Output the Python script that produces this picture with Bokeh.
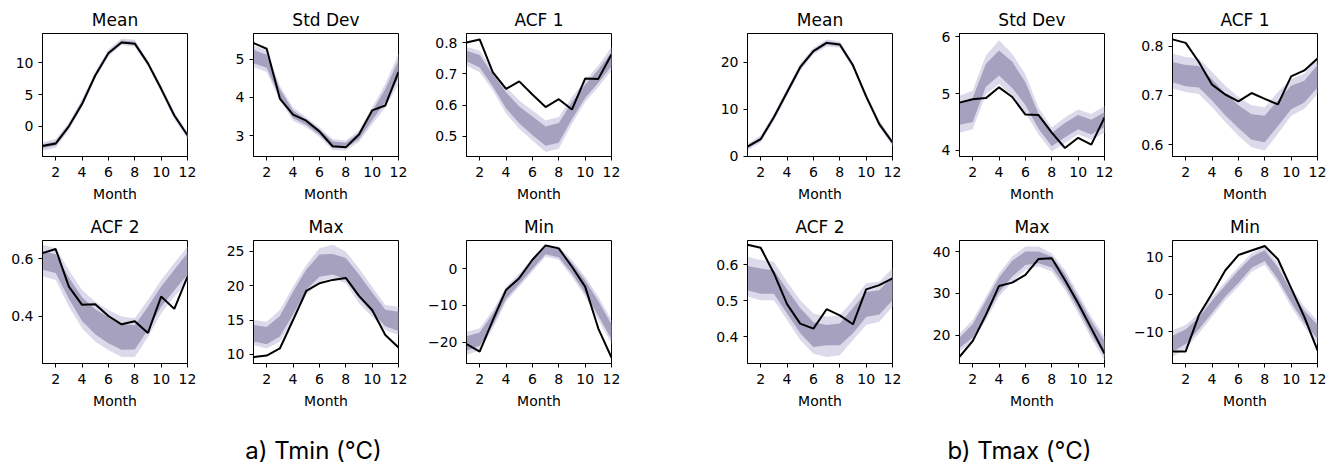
from bokeh.plotting import figure
from bokeh.layouts import column, row
from bokeh.models import Range1d, FixedTicker, CustomJSTickFormatter
from bokeh.core.properties import value
from bokeh.embed import file_html
from bokeh.resources import INLINE

MONTHS = [1, 2, 3, 4, 5, 6, 7, 8, 9, 10, 11, 12]
X_TICKS = [2, 4, 6, 8, 10, 12]
TITLES = ["Mean", "Std Dev", "ACF 1", "ACF 2", "Max", "Min"]
CAPTIONS = ["a) Tmin (°C)", "b) Tmax (°C)"]

# ---------------- Tmin ----------------
TMIN_MEAN_OBS = [-3.1, -2.7, 0.0, 3.5, 8.0, 11.5, 13.2, 13.0, 9.9, 5.9, 1.7, -1.4]
TMIN_MEAN_OLO = [-3.8, -3.4, -0.6, 3.0, 7.5, 11.0, 12.8, 12.5, 9.4, 5.4, 1.1, -2.0]
TMIN_MEAN_OHI = [-2.5, -2.0, 0.6, 4.3, 8.6, 12.1, 13.8, 13.6, 10.4, 6.5, 2.3, -0.9]
TMIN_MEAN_CLO = [-3.4, -3.0, -0.2, 3.4, 7.8, 11.4, 13.1, 12.9, 9.7, 5.8, 1.5, -1.6]
TMIN_MEAN_CHI = [-2.8, -2.4, 0.3, 4.0, 8.3, 11.8, 13.5, 13.3, 10.1, 6.2, 2.0, -1.2]

TMIN_STD_OBS = [5.43, 5.28, 3.97, 3.55, 3.39, 3.11, 2.72, 2.69, 3.03, 3.66, 3.79, 4.67]
TMIN_STD_OLO = [4.80, 4.67, 3.92, 3.39, 3.22, 2.96, 2.62, 2.61, 2.83, 3.30, 3.74, 4.36]
TMIN_STD_OHI = [5.37, 5.24, 4.30, 3.74, 3.48, 3.22, 2.91, 2.87, 3.13, 3.74, 4.36, 5.15]
TMIN_STD_CLO = [4.90, 4.78, 4.00, 3.46, 3.28, 3.02, 2.68, 2.67, 2.90, 3.40, 3.88, 4.52]
TMIN_STD_CHI = [5.25, 5.12, 4.22, 3.66, 3.42, 3.16, 2.85, 2.81, 3.06, 3.64, 4.22, 4.98]

TMIN_ACF1_OBS = [0.800, 0.810, 0.705, 0.652, 0.676, 0.634, 0.594, 0.619, 0.586, 0.685, 0.684, 0.762]
TMIN_ACF1_OLO = [0.727, 0.705, 0.647, 0.573, 0.525, 0.487, 0.450, 0.461, 0.541, 0.610, 0.658, 0.711]
TMIN_ACF1_OHI = [0.786, 0.775, 0.711, 0.659, 0.615, 0.583, 0.551, 0.562, 0.626, 0.679, 0.727, 0.786]
TMIN_ACF1_CLO = [0.740, 0.720, 0.660, 0.590, 0.542, 0.505, 0.470, 0.480, 0.556, 0.623, 0.672, 0.725]
TMIN_ACF1_CHI = [0.774, 0.760, 0.698, 0.641, 0.596, 0.564, 0.532, 0.543, 0.610, 0.665, 0.713, 0.770]

TMIN_ACF2_OBS = [0.620, 0.634, 0.503, 0.439, 0.441, 0.400, 0.371, 0.382, 0.341, 0.468, 0.425, 0.538]
TMIN_ACF2_OLO = [0.538, 0.526, 0.433, 0.357, 0.310, 0.281, 0.257, 0.257, 0.327, 0.409, 0.468, 0.520]
TMIN_ACF2_OHI = [0.649, 0.637, 0.561, 0.491, 0.450, 0.421, 0.398, 0.392, 0.456, 0.526, 0.585, 0.643]
TMIN_ACF2_CLO = [0.562, 0.550, 0.460, 0.383, 0.336, 0.305, 0.282, 0.283, 0.352, 0.432, 0.490, 0.545]
TMIN_ACF2_CHI = [0.627, 0.615, 0.535, 0.466, 0.424, 0.396, 0.373, 0.368, 0.432, 0.503, 0.562, 0.620]

TMIN_MAX_OBS = [9.61, 9.85, 10.87, 15.0, 19.22, 20.34, 20.83, 21.12, 18.5, 16.46, 12.82, 11.02]
TMIN_MAX_OLO = [11.36, 10.87, 11.84, 15.0, 18.64, 20.58, 21.07, 20.34, 17.43, 15.49, 13.54, 12.82]
TMIN_MAX_OHI = [15.0, 14.76, 16.46, 19.85, 23.0, 25.44, 25.92, 24.95, 22.52, 19.85, 17.18, 16.94]
TMIN_MAX_CLO = [11.9, 11.5, 12.6, 15.8, 19.4, 21.3, 21.6, 20.9, 18.2, 16.1, 14.1, 13.4]
TMIN_MAX_CHI = [14.3, 14.0, 15.6, 19.1, 22.3, 24.5, 24.6, 24.0, 21.6, 19.0, 16.5, 16.2]

TMIN_MIN_OBS = [-20.5, -22.6, -14.0, -5.8, -2.6, 2.4, 6.3, 5.5, 0.5, -4.9, -16.3, -24.2]
TMIN_MIN_OLO = [-23.5, -22.2, -16.3, -9.0, -4.9, -0.8, 3.3, 2.4, -2.2, -7.6, -14.0, -20.4]
TMIN_MIN_OHI = [-17.2, -16.3, -11.3, -4.9, -1.3, 2.8, 6.5, 6.0, 2.4, -2.2, -7.6, -14.0]
TMIN_MIN_CLO = [-22.3, -21.0, -15.3, -8.2, -4.2, -0.1, 3.9, 3.1, -1.3, -6.6, -12.8, -19.2]
TMIN_MIN_CHI = [-18.4, -17.4, -12.3, -5.7, -2.0, 2.1, 5.9, 5.3, 1.5, -3.2, -8.8, -15.2]

# ---------------- Tmax ----------------
TMAX_MEAN_OBS = [2.06, 3.63, 8.26, 13.6, 18.9, 22.3, 24.06, 23.7, 19.3, 12.7, 6.83, 2.92]
TMAX_MEAN_OLO = [1.3, 2.9, 7.5, 12.8, 18.1, 21.6, 23.3, 23.0, 18.6, 12.0, 6.1, 2.2]
TMAX_MEAN_OHI = [2.7, 4.4, 9.0, 14.4, 19.7, 23.0, 24.8, 24.4, 20.0, 13.4, 7.6, 3.6]
TMAX_MEAN_CLO = [1.7, 3.3, 7.9, 13.2, 18.5, 22.0, 23.7, 23.4, 19.0, 12.4, 6.5, 2.6]
TMAX_MEAN_CHI = [2.3, 4.0, 8.6, 14.0, 19.3, 22.6, 24.4, 24.0, 19.6, 13.0, 7.2, 3.2]

TMAX_STD_OBS = [4.84, 4.90, 4.92, 5.11, 4.94, 4.63, 4.62, 4.31, 4.04, 4.22, 4.10, 4.58]
TMAX_STD_OLO = [4.31, 4.37, 4.99, 5.17, 4.96, 4.66, 4.28, 3.98, 4.13, 4.28, 4.19, 4.31]
TMAX_STD_OHI = [4.96, 5.05, 5.67, 5.94, 5.70, 5.34, 4.75, 4.40, 4.58, 4.72, 4.64, 4.78]
TMAX_STD_CLO = [4.45, 4.50, 5.12, 5.32, 5.10, 4.80, 4.38, 4.07, 4.23, 4.37, 4.28, 4.41]
TMAX_STD_CHI = [4.82, 4.92, 5.52, 5.76, 5.56, 5.20, 4.64, 4.31, 4.48, 4.62, 4.54, 4.67]

TMAX_ACF1_OBS = [0.814, 0.807, 0.768, 0.722, 0.702, 0.688, 0.705, 0.693, 0.682, 0.739, 0.751, 0.775]
TMAX_ACF1_OLO = [0.714, 0.707, 0.703, 0.676, 0.646, 0.618, 0.595, 0.588, 0.622, 0.659, 0.673, 0.703]
TMAX_ACF1_OHI = [0.785, 0.778, 0.775, 0.748, 0.720, 0.697, 0.680, 0.676, 0.707, 0.734, 0.744, 0.778]
TMAX_ACF1_CLO = [0.727, 0.719, 0.716, 0.690, 0.660, 0.634, 0.610, 0.605, 0.638, 0.672, 0.686, 0.716]
TMAX_ACF1_CHI = [0.768, 0.762, 0.760, 0.733, 0.704, 0.680, 0.662, 0.659, 0.690, 0.720, 0.730, 0.762]

TMAX_ACF2_OBS = [0.656, 0.648, 0.577, 0.491, 0.437, 0.423, 0.477, 0.460, 0.435, 0.532, 0.544, 0.563]
TMAX_ACF2_OLO = [0.512, 0.502, 0.502, 0.447, 0.391, 0.353, 0.344, 0.349, 0.391, 0.433, 0.442, 0.484]
TMAX_ACF2_OHI = [0.623, 0.614, 0.609, 0.553, 0.502, 0.465, 0.456, 0.460, 0.502, 0.549, 0.553, 0.591]
TMAX_ACF2_CLO = [0.530, 0.520, 0.520, 0.465, 0.410, 0.372, 0.377, 0.377, 0.410, 0.455, 0.462, 0.502]
TMAX_ACF2_CHI = [0.597, 0.590, 0.585, 0.532, 0.480, 0.441, 0.433, 0.437, 0.480, 0.525, 0.530, 0.568]

TMAX_MAX_OBS = [14.8, 18.56, 24.8, 31.76, 32.56, 34.4, 38.24, 38.4, 33.2, 27.6, 21.6, 15.6]
TMAX_MAX_OLO = [16.0, 18.4, 23.6, 29.2, 32.8, 35.6, 36.4, 35.2, 30.8, 25.2, 19.2, 14.0]
TMAX_MAX_OHI = [20.4, 23.6, 29.2, 34.8, 38.8, 41.2, 41.2, 39.6, 35.6, 30.0, 24.4, 19.6]
TMAX_MAX_CLO = [16.9, 19.4, 24.6, 30.2, 34.0, 36.8, 37.2, 36.2, 31.8, 26.2, 20.2, 15.0]
TMAX_MAX_CHI = [19.4, 22.6, 28.2, 33.8, 37.8, 40.0, 40.0, 38.8, 34.6, 29.0, 23.4, 18.6]

TMAX_MIN_OBS = [-15.2, -15.2, -5.6, 0.2, 6.3, 10.4, 11.6, 12.8, 9.3, 1.6, -6.0, -14.9]
TMAX_MIN_OLO = [-16.7, -14.4, -10.4, -6.0, -1.6, 2.0, 6.0, 7.8, 2.9, -3.3, -8.7, -13.1]
TMAX_MIN_OHI = [-9.6, -8.2, -5.1, -0.7, 3.3, 7.3, 10.9, 12.7, 8.2, 2.0, -3.3, -6.9]
TMAX_MIN_CLO = [-15.3, -13.2, -9.3, -5.0, -0.6, 3.0, 7.0, 8.8, 4.0, -2.2, -7.6, -11.9]
TMAX_MIN_CHI = [-11.0, -9.4, -6.2, -1.7, 2.3, 6.3, 9.9, 11.7, 7.1, 0.9, -4.4, -8.1]

OUTER_COLOR = "#dcd9eb"
CORE_COLOR = "#a5a1be"
FONT = "DejaVu Sans"

FRAME_W = 145
FRAME_H = 123


def make_panel(title, obs, olo, ohi, clo, chi, yr, yticks, dec, left, top, bottom):
    p = figure(frame_width=FRAME_W, frame_height=FRAME_H,
               min_border_left=left, min_border_right=10,
               min_border_top=top, min_border_bottom=bottom,
               x_range=Range1d(1, 12), y_range=Range1d(*yr),
               output_backend="svg", toolbar_location=None, title=title)
    p.varea(x=MONTHS, y1=olo, y2=ohi, fill_color=OUTER_COLOR, fill_alpha=1.0)
    p.varea(x=MONTHS, y1=clo, y2=chi, fill_color=CORE_COLOR, fill_alpha=1.0)
    p.line(x=MONTHS, y=obs, line_color="black", line_width=2)

    p.title.text_font = FONT
    p.title.text_font_size = "17px"
    p.title.text_font_style = "normal"
    p.title.align = "center"
    p.title.standoff = 7
    p.title.text_color = "black"

    p.grid.visible = False
    p.outline_line_color = "black"
    p.outline_line_width = 1
    p.outline_line_alpha = 1
    p.background_fill_color = "white"
    p.border_fill_color = "white"

    p.xaxis.ticker = FixedTicker(ticks=X_TICKS)
    p.yaxis.ticker = FixedTicker(ticks=yticks)
    p.yaxis.formatter = CustomJSTickFormatter(
        code="return tick.toFixed(%d).replace('-', '\u2212');" % dec)
    p.xaxis.axis_label = "Month"
    for ax in (p.xaxis, p.yaxis):
        ax.axis_line_color = "black"
        ax.axis_line_width = 1
        ax.major_tick_in = 0
        ax.major_tick_out = 4
        ax.major_tick_line_color = "black"
        ax.minor_tick_line_color = None
        ax.major_label_text_font = FONT
        ax.major_label_text_font_size = "14px"
        ax.major_label_text_color = "black"
        ax.axis_label_text_font = FONT
        ax.axis_label_text_font_size = "14px"
        ax.axis_label_text_font_style = "normal"
        ax.axis_label_text_color = "black"
        ax.axis_label_standoff = 6
    p.xaxis.major_label_standoff = 6
    p.yaxis.major_label_standoff = 5
    return p


LEFTS = [42, 56, 58, 126, 57, 58]
TOP1, BOT1 = 33, 55
TOP2, BOT2 = 29, 51

row1 = [
    make_panel(TITLES[0], TMIN_MEAN_OBS, TMIN_MEAN_OLO, TMIN_MEAN_OHI, TMIN_MEAN_CLO, TMIN_MEAN_CHI,
               (-4.74, 14.6), [0, 5, 10], 0, LEFTS[0], TOP1, BOT1),
    make_panel(TITLES[1], TMIN_STD_OBS, TMIN_STD_OLO, TMIN_STD_OHI, TMIN_STD_CLO, TMIN_STD_CHI,
               (2.45, 5.68), [3, 4, 5], 0, LEFTS[1], TOP1, BOT1),
    make_panel(TITLES[2], TMIN_ACF1_OBS, TMIN_ACF1_OLO, TMIN_ACF1_OHI, TMIN_ACF1_CLO, TMIN_ACF1_CHI,
               (0.436, 0.829), [0.5, 0.6, 0.7, 0.8], 1, LEFTS[2], TOP1, BOT1),
    make_panel(TITLES[0], TMAX_MEAN_OBS, TMAX_MEAN_OLO, TMAX_MEAN_OHI, TMAX_MEAN_CLO, TMAX_MEAN_CHI,
               (-0.05, 26.05), [0, 10, 20], 0, LEFTS[3], TOP1, BOT1),
    make_panel(TITLES[1], TMAX_STD_OBS, TMAX_STD_OLO, TMAX_STD_OHI, TMAX_STD_CLO, TMAX_STD_CHI,
               (3.89, 6.06), [4, 5, 6], 0, LEFTS[4], TOP1, BOT1),
    make_panel(TITLES[2], TMAX_ACF1_OBS, TMAX_ACF1_OLO, TMAX_ACF1_OHI, TMAX_ACF1_CLO, TMAX_ACF1_CHI,
               (0.576, 0.826), [0.6, 0.7, 0.8], 1, LEFTS[5], TOP1, BOT1),
]

row2 = [
    make_panel(TITLES[3], TMIN_ACF2_OBS, TMIN_ACF2_OLO, TMIN_ACF2_OHI, TMIN_ACF2_CLO, TMIN_ACF2_CHI,
               (0.234, 0.664), [0.4, 0.6], 1, LEFTS[0], TOP2, BOT2),
    make_panel(TITLES[4], TMIN_MAX_OBS, TMIN_MAX_OLO, TMIN_MAX_OHI, TMIN_MAX_CLO, TMIN_MAX_CHI,
               (8.69, 26.55), [10, 15, 20, 25], 0, LEFTS[1], TOP2, BOT2),
    make_panel(TITLES[5], TMIN_MIN_OBS, TMIN_MIN_OLO, TMIN_MIN_OHI, TMIN_MIN_CLO, TMIN_MIN_CHI,
               (-25.8, 7.64), [-20, -10, 0], 0, LEFTS[2], TOP2, BOT2),
    make_panel(TITLES[3], TMAX_ACF2_OBS, TMAX_ACF2_OLO, TMAX_ACF2_OHI, TMAX_ACF2_CLO, TMAX_ACF2_CHI,
               (0.326, 0.668), [0.4, 0.5, 0.6], 1, LEFTS[3], TOP2, BOT2),
    make_panel(TITLES[4], TMAX_MAX_OBS, TMAX_MAX_OLO, TMAX_MAX_OHI, TMAX_MAX_CLO, TMAX_MAX_CHI,
               (13.2, 42.64), [20, 30, 40], 0, LEFTS[4], TOP2, BOT2),
    make_panel(TITLES[5], TMAX_MIN_OBS, TMAX_MIN_OLO, TMAX_MIN_OHI, TMAX_MIN_CLO, TMAX_MIN_CHI,
               (-18.4, 14.27), [-10, 0, 10], 0, LEFTS[5], TOP2, BOT2),
]

# caption strip
cap = figure(width=1327, height=50, x_range=Range1d(0, 1327), y_range=Range1d(0, 50),
             x_axis_type=None, y_axis_type=None, min_border=0,
             output_backend="svg", toolbar_location=None)
cap.outline_line_color = None
cap.background_fill_color = "white"
cap.border_fill_color = "white"
cap.text(x=[313, 1019], y=[14, 14], text=CAPTIONS,
         text_font=value("Inter"), text_font_size=value("24px"),
         text_align="center", text_baseline="middle", text_color="black")

layout = column(row(*row1), row(*row2), cap)

with open("out.html", "w") as f:
    f.write(file_html(layout, INLINE))
